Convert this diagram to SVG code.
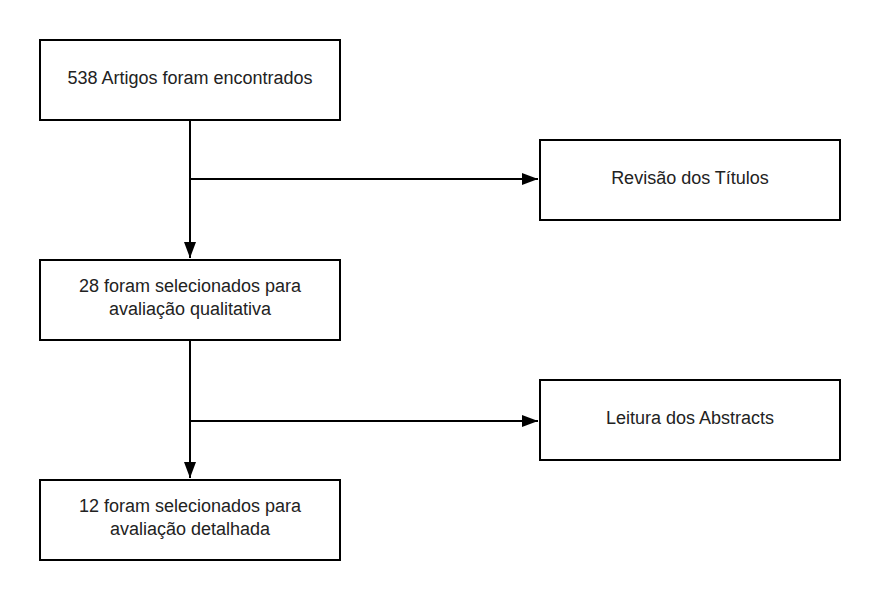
<svg xmlns="http://www.w3.org/2000/svg" width="880" height="600" viewBox="0 0 880 600">
<style>
.box{fill:#fff;stroke:#000;stroke-width:2}
.lbl{font-family:"Liberation Sans",Arial,sans-serif;font-size:18px;fill:#222;text-anchor:middle}
.con{fill:none;stroke:#000;stroke-width:2}
</style>
<defs>
<marker id="ah" markerWidth="16" markerHeight="12" refX="16" refY="6" orient="auto" markerUnits="userSpaceOnUse">
<path d="M0,0 L16,6 L0,12 Z" fill="#000"/>
</marker>
</defs>
<rect width="880" height="600" fill="#fff"/>
<g id="connectors">
<line class="con" x1="190" y1="120" x2="190" y2="258" marker-end="url(#ah)"/>
<line class="con" x1="190" y1="179" x2="538" y2="179" marker-end="url(#ah)"/>
<line class="con" x1="190" y1="340" x2="190" y2="478" marker-end="url(#ah)"/>
<line class="con" x1="190" y1="421" x2="538" y2="421" marker-end="url(#ah)"/>
</g>
<g id="n1"><rect class="box" x="40" y="40" width="300" height="80"/><text class="lbl" x="190" y="84">538 Artigos foram encontrados</text></g>
<g id="n2"><rect class="box" x="540" y="140" width="300" height="80"/><text class="lbl" x="690" y="184">Revisão dos Títulos</text></g>
<g id="n3"><rect class="box" x="40" y="260" width="300" height="80"/><text class="lbl" x="190" y="292">28 foram selecionados para</text><text class="lbl" x="190" y="315">avaliação qualitativa</text></g>
<g id="n4"><rect class="box" x="540" y="380" width="300" height="80"/><text class="lbl" x="690" y="424">Leitura dos Abstracts</text></g>
<g id="n5"><rect class="box" x="40" y="480" width="300" height="80"/><text class="lbl" x="190" y="512">12 foram selecionados para</text><text class="lbl" x="190" y="535">avaliação detalhada</text></g>
</svg>
